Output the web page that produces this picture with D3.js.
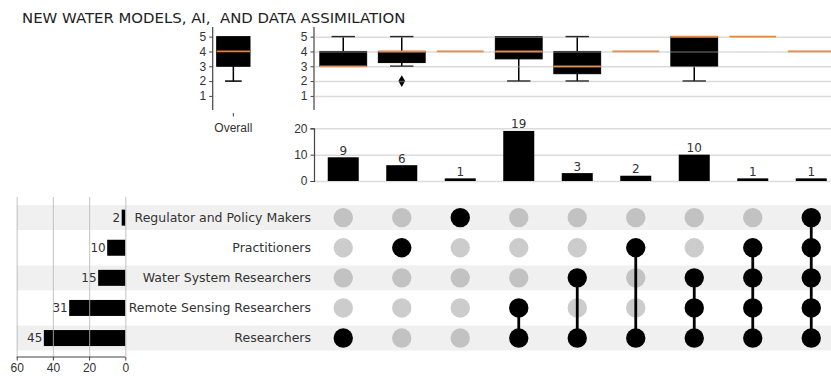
<!DOCTYPE html>
<html>
<head>
<meta charset="utf-8">
<script src="https://cdn.jsdelivr.net/npm/d3@7"></script>
<style>
  body { margin: 0; background: #fff; }
  svg { font-family: "DejaVu Sans", sans-serif; }
  .tick text { fill: #333; font-size: 12px; }
  .domain { stroke: #444; stroke-width: 1.2; }
  .axis .tick line { stroke: #444; }
</style>
</head>
<body>
<svg width="831" height="377"></svg>
<script>
// data
var title = "NEW WATER MODELS, AI,  AND DATA ASSIMILATION";
var categories = ["Regulator and Policy Makers", "Practitioners", "Water System Researchers",
                  "Remote Sensing Researchers", "Researchers"];
var setSizes = [2, 10, 15, 31, 45];
var memberships = [
  ["Researchers"],
  ["Practitioners"],
  ["Regulator and Policy Makers"],
  ["Remote Sensing Researchers", "Researchers"],
  ["Water System Researchers", "Researchers"],
  ["Practitioners", "Researchers"],
  ["Water System Researchers", "Remote Sensing Researchers", "Researchers"],
  ["Practitioners", "Water System Researchers", "Remote Sensing Researchers", "Researchers"],
  ["Regulator and Policy Makers", "Practitioners", "Water System Researchers", "Remote Sensing Researchers", "Researchers"]
];
var counts = [9, 6, 1, 19, 3, 2, 10, 1, 1];
// [low whisker, q1, median, q3, high whisker]
var boxStats = [[3, 3, 3, 4, 5], [3, 3.25, 4, 4, 5], [4, 4, 4, 4, 4], [2, 3.5, 4, 5, 5], [2, 2.5, 3, 4, 5],
                [4, 4, 4, 4, 4], [2, 3, 5, 5, 5], [5, 5, 5, 5, 5], [4, 4, 4, 4, 4]];
var outliers = [[], [2], [], [], [], [], [], [], []];
var overallStats = [2, 3, 4, 5, 5];
var ratingTicks = [1, 2, 3, 4, 5];
var countTicks = [0, 10, 20];
var sizeTicks = [0, 20, 40, 60];

var svg = d3.select("svg");
var cols = d3.range(counts.length);

var xScale = d3.scaleBand().domain(cols).range([314, 314 + 58.5 * cols.length]);
var xMid = function(i) { return xScale(i) + xScale.bandwidth() / 2; };
var boxW = xScale.bandwidth() * 0.8;
var barW = xScale.bandwidth() * 0.53;

var yBox = d3.scaleLinear().domain([0.05, 5.65]).range([110, 27]);
var yCount = d3.scaleLinear().domain([0, 20]).range([181, 128.3]);
var yRow = d3.scaleBand().domain(categories).range([202.6, 353.1]);
var yRowMid = function(c) { return yRow(c) + yRow.bandwidth() / 2; };
var xSize = d3.scaleLinear().domain([0, 60]).range([125.3, 16.7]);
var xOverall = d3.scaleBand().domain(["Overall"]).range([212.7, 254]);

// title
svg.append("text")
    .attr("x", 22).attr("y", 23)
    .attr("font-size", 14.9)
    .attr("fill", "#222")
    .style("white-space", "pre")
    .text(title);

// ---- shaded rows of the matrix
svg.selectAll(".row-band")
    .data(categories.filter(function(d, i) { return i % 2 == 0; }))
  .enter().append("rect")
    .attr("x", 16.7)
    .attr("width", 831 - 16.7)
    .attr("y", function(d) { return yRowMid(d) - 12.4; })
    .attr("height", 24.8)
    .attr("fill", "#f0f0f0");

function drawBox(g, s, cx, w, y) {
    g.append("line").attr("x1", cx).attr("x2", cx).attr("y1", y(s[0])).attr("y2", y(s[1]))
        .attr("stroke", "#000").attr("stroke-width", 1.5);
    g.append("line").attr("x1", cx).attr("x2", cx).attr("y1", y(s[3])).attr("y2", y(s[4]))
        .attr("stroke", "#000").attr("stroke-width", 1.5);
    if (s[0] < s[1]) {
        g.append("line").attr("x1", cx - w / 4).attr("x2", cx + w / 4).attr("y1", y(s[0])).attr("y2", y(s[0]))
            .attr("stroke", "#000").attr("stroke-width", 1.5);
    }
    if (s[4] > s[3]) {
        g.append("line").attr("x1", cx - w / 4).attr("x2", cx + w / 4).attr("y1", y(s[4])).attr("y2", y(s[4]))
            .attr("stroke", "#000").attr("stroke-width", 1.5);
    }
    if (s[3] > s[1]) {
        g.append("rect").attr("x", cx - w / 2).attr("width", w)
            .attr("y", y(s[3])).attr("height", y(s[1]) - y(s[3]))
            .attr("fill", "#000").attr("stroke", "#000");
    }
    g.append("line").attr("x1", cx - w / 2).attr("x2", cx + w / 2).attr("y1", y(s[2])).attr("y2", y(s[2]))
        .attr("stroke", "#f57c2a").attr("stroke-width", 1.8);
}

// ---- overall box plot
var gOverall = svg.append("g");
gOverall.append("g")
    .attr("class", "axis")
    .attr("transform", "translate(212.7,0)")
    .call(d3.axisLeft(yBox).tickValues(ratingTicks).tickFormat(d3.format("d")).tickSize(3.5).tickPadding(3))
    .call(function(g) { g.select(".domain").attr("d", "M0," + yBox.range()[0] + "V" + yBox.range()[1]); });
drawBox(gOverall, overallStats, xOverall("Overall") + xOverall.bandwidth() / 2, 33.3, yBox);
gOverall.append("g")
    .attr("class", "axis")
    .attr("transform", "translate(0,113)")
    .call(d3.axisBottom(xOverall).tickSize(3.5).tickPadding(7))
    .call(function(g) { g.select(".domain").remove(); });

// ---- box plots per intersection
var gBox = svg.append("g");
gBox.append("g")
    .attr("class", "axis")
    .attr("transform", "translate(314,0)")
    .call(d3.axisLeft(yBox).tickValues(ratingTicks).tickFormat(d3.format("d")).tickSize(3.5).tickPadding(3))
    .call(function(g) { g.select(".domain").attr("d", "M0," + yBox.range()[0] + "V" + yBox.range()[1]); });
cols.forEach(function(i) {
    drawBox(gBox, boxStats[i], xMid(i), boxW, yBox);
});
gBox.selectAll(".outlier")
    .data(cols.filter(function(i) { return outliers[i].length; }).flatMap(function(i) {
        return outliers[i].map(function(v) { return {col: i, value: v}; });
    }))
  .enter().append("path")
    .attr("d", d3.symbol(d3.symbolDiamond, 40))
    .attr("transform", function(d) { return "translate(" + xMid(d.col) + "," + yBox(d.value) + ")"; })
    .attr("fill", "#000");
// gridlines drawn on top, faint
gBox.append("g")
    .attr("transform", "translate(314,0)")
    .call(d3.axisRight(yBox).tickValues(ratingTicks).tickSize(831 - 314).tickFormat(""))
    .call(function(g) {
        g.select(".domain").remove();
        g.selectAll(".tick line").style("stroke", "#b0b0b0").attr("stroke-width", 1.5).attr("opacity", 0.45);
    });

// ---- intersection size bars
var gBar = svg.append("g");
gBar.append("g")
    .attr("transform", "translate(314,0)")
    .call(d3.axisRight(yCount).tickValues(countTicks).tickSize(831 - 314).tickFormat(""))
    .call(function(g) {
        g.select(".domain").remove();
        g.selectAll(".tick line").style("stroke", "#dcdcdc").attr("stroke-width", 1.5);
    });
gBar.append("g")
    .attr("class", "axis")
    .attr("transform", "translate(314,0)")
    .call(d3.axisLeft(yCount).tickValues(countTicks).tickSize(3.5).tickPadding(3));
gBar.selectAll(".count-bar")
    .data(cols)
  .enter().append("rect")
    .attr("x", function(i) { return xMid(i) - barW / 2; })
    .attr("width", barW)
    .attr("y", function(i) { return yCount(counts[i]); })
    .attr("height", function(i) { return yCount(0) - yCount(counts[i]); })
    .attr("fill", "#000");
gBar.selectAll(".count-label")
    .data(cols)
  .enter().append("text")
    .attr("x", xMid)
    .attr("y", function(i) { return yCount(counts[i]) - 2.5; })
    .attr("text-anchor", "middle")
    .attr("font-size", 12)
    .attr("fill", "#333")
    .text(function(i) { return counts[i]; });

// ---- set size bars (left)
var gSize = svg.append("g");
gSize.selectAll(".size-bar")
    .data(categories)
  .enter().append("rect")
    .attr("x", function(d, i) { return xSize(setSizes[i]); })
    .attr("width", function(d, i) { return xSize(0) - xSize(setSizes[i]); })
    .attr("y", function(d) { return yRowMid(d) - 8; })
    .attr("height", 16)
    .attr("fill", "#000");
gSize.append("g")
    .attr("transform", "translate(0,197)")
    .call(d3.axisBottom(xSize).tickValues(sizeTicks).tickSize(357 - 197).tickFormat(""))
    .call(function(g) {
        g.select(".domain").remove();
        g.selectAll(".tick line").style("stroke", "#b8b8b8").attr("stroke-width", 1.2).attr("opacity", 0.7);
    });
gSize.selectAll(".size-label")
    .data(categories)
  .enter().append("text")
    .attr("x", function(d, i) { return xSize(setSizes[i]) - 1.5; })
    .attr("y", function(d) { return yRowMid(d); })
    .attr("dy", "0.35em")
    .attr("text-anchor", "end")
    .attr("font-size", 12)
    .attr("fill", "#333")
    .text(function(d, i) { return setSizes[i]; });
gSize.append("g")
    .attr("class", "axis")
    .attr("transform", "translate(0,357)")
    .call(d3.axisBottom(xSize).tickValues(sizeTicks).tickSize(3.5).tickPadding(3))
    .call(function(g) { g.select(".domain").attr("d", "M" + xSize(60) + ",0H" + xSize(0)); });

// category names
svg.selectAll(".cat-label")
    .data(categories)
  .enter().append("text")
    .attr("x", 311)
    .attr("y", yRowMid)
    .attr("dy", "0.35em")
    .attr("text-anchor", "end")
    .attr("font-size", 12.5)
    .attr("fill", "#333")
    .text(function(d) { return d; });

// ---- matrix dots
var cells = [];
cols.forEach(function(i) {
    categories.forEach(function(c, r) {
        cells.push({col: i, cat: c, row: r, on: memberships[i].indexOf(c) >= 0});
    });
});
svg.selectAll(".dot")
    .data(cells)
  .enter().append("circle")
    .attr("cx", function(d) { return xMid(d.col); })
    .attr("cy", function(d) { return yRowMid(d.cat); })
    .attr("r", 9.7)
    .attr("fill", function(d) { return d.on ? "#000" : (d.row % 2 == 0 ? "#c2c2c2" : "#cccccc"); });
svg.selectAll(".link")
    .data(cols.filter(function(i) { return memberships[i].length > 1; }))
  .enter().append("line")
    .attr("x1", xMid).attr("x2", xMid)
    .attr("y1", function(i) { return d3.min(memberships[i], yRowMid); })
    .attr("y2", function(i) { return d3.max(memberships[i], yRowMid); })
    .attr("stroke", "#000")
    .attr("stroke-width", 2.8);
</script>
</body>
</html>
